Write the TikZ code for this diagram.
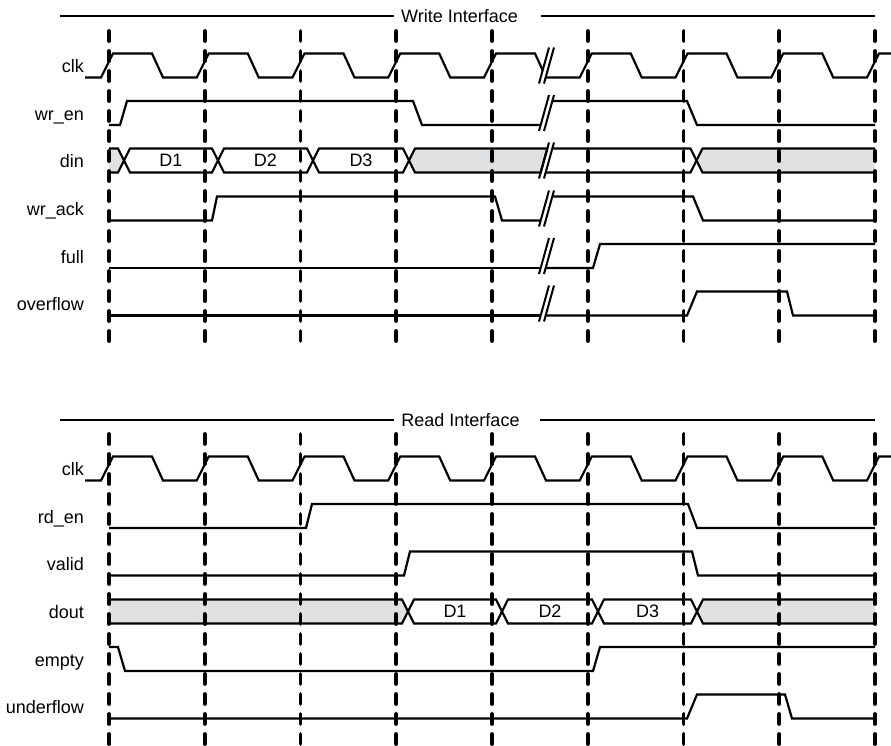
\documentclass[tikz,border=0pt]{standalone}
\usepackage{fontspec}
\setmainfont{Liberation Sans}
\definecolor{busgray}{RGB}{224,225,226}

\begin{document}
\begin{tikzpicture}[
x=1pt, y=-1pt,
sig/.style={line width=2.2pt, line join=miter},
busfill/.style={fill=busgray},
marker/.style={line width=3.8pt, line cap=round, dash pattern=on 10pt off 10pt},
slash/.style={line width=2pt},
lbl/.style={anchor=base east, inner sep=0pt, font=\fontsize{18}{21}\selectfont},
data/.style={inner sep=0pt, font=\fontsize{18}{21}\selectfont},
head/.style={inner sep=7pt, font=\fontsize{18}{21}\selectfont},
]
\useasboundingbox (0,0) rectangle (891,745);

% ---------------- write interface
\node[head] (wtitle) at (459.5,16) {Write Interface};
\draw[sig] (60,16) -- (wtitle.west);
\draw[sig] ([xshift=16pt]wtitle.east) -- (875,16);

\node[lbl] (wclk) at (84,72.5) {clk};
\node[lbl] (wren) at (84,120) {wr\_en};
\node[lbl] (din) at (84,167.5) {din};
\node[lbl] (wrack) at (84,215.5) {wr\_ack};
\node[lbl] (full) at (84,263) {full};
\node[lbl] (overflow) at (84,310.5) {overflow};

% clk
\draw[sig] (85,77.5) \foreach \k in {0,...,3} {
  -- ({101+95.75*\k},77.5) -- ({113+95.75*\k},53.5)
  -- ({152+95.75*\k},53.5) -- ({163+95.75*\k},77.5) }
  -- (484,77.5) -- (496,53.5) -- (535,53.5) -- (542.7,70.3);
\draw[sig] (545.7,77.5) \foreach \k in {5,6,7} {
  -- ({101+95.75*\k},77.5) -- ({113+95.75*\k},53.5)
  -- ({152+95.75*\k},53.5) -- ({163+95.75*\k},77.5) }
  -- (867,77.5) -- (879,53.5) -- (891,53.5);

% wr_en
\draw[sig] (109,125) -- (120,125) -- (127,101) -- (413,101) -- (422,125) -- (540.7,125);
\draw[sig] (552.3,101) -- (687,101) -- (697,125) -- (875,125);

% din
\fill[busfill] (109,148.5) -- (118,148.5) -- (124,160.5) -- (118,172.5) -- (109,172.5) -- cycle;
\draw[sig] (109,148.5) -- (118,148.5) -- (124,160.5) -- (118,172.5) -- (109,172.5);
\draw[sig] (124,160.5) -- (130,148.5) -- (212,148.5) -- (218,160.5) -- (212,172.5) -- (130,172.5) -- cycle;
\draw[sig] (218,160.5) -- (224,148.5) -- (307,148.5) -- (313,160.5) -- (307,172.5) -- (224,172.5) -- cycle;
\draw[sig] (313,160.5) -- (319,148.5) -- (403,148.5) -- (409,160.5) -- (403,172.5) -- (319,172.5) -- cycle;
\draw[sig, busfill] (409,160.5) -- (415,148.5) -- (547.3,148.5) -- (540.7,172.5) -- (415,172.5) -- cycle;
\draw[sig] (552.3,148.5) -- (690.5,148.5) -- (696.5,160.5) -- (690.5,172.5) -- (545.7,172.5);
\fill[busfill] (696.5,160.5) -- (702.5,148.5) -- (875,148.5) -- (875,172.5) -- (702.5,172.5) -- cycle;
\draw[sig] (875,148.5) -- (702.5,148.5) -- (696.5,160.5) -- (702.5,172.5) -- (875,172.5);
\node[data] (wd1) at (171,160.5) {D1};
\node[data] (wd2) at (265.5,160.5) {D2};
\node[data] (wd3) at (361,160.5) {D3};

% wr_ack
\draw[sig] (109,220.5) -- (212,220.5) -- (217,196.5) -- (495,196.5) -- (502,220.5) -- (540.7,220.5);
\draw[sig] (552.3,196.5) -- (693,196.5) -- (703,220.5) -- (875,220.5);

% full
\draw[sig] (109,268) -- (540.7,268);
\draw[sig] (545.7,268) -- (593,268) -- (600,244) -- (875,244);

% overflow
\draw[sig] (109,315.5) -- (540.7,315.5);
\draw[sig] (545.7,315.5) -- (687,315.5) -- (697,291.5) -- (787,291.5) -- (793,315.5) -- (875,315.5);

% break marks
\foreach \yc in {65.5,113,160.5,208.5,256,303.5} {
  \draw[slash] (539,{\yc+18}) -- (549,{\yc-18});
  \draw[slash] (544,{\yc+18}) -- (554,{\yc-18});
}

% ---------------- read interface
\node[head] (rtitle) at (460.5,420) {Read Interface};
\draw[sig] (60,420) -- (rtitle.west);
\draw[sig] ([xshift=13pt]rtitle.east) -- (875,420);

\node[lbl] (rclk) at (84,475.5) {clk};
\node[lbl] (rden) at (84,523) {rd\_en};
\node[lbl] (valid) at (84,570.5) {valid};
\node[lbl] (dout) at (84,618.5) {dout};
\node[lbl] (empty) at (84,666) {empty};
\node[lbl] (underflow) at (84,713.5) {underflow};

% clk
\draw[sig] (85,480.5) \foreach \k in {0,...,7} {
  -- ({101+95.75*\k},480.5) -- ({113+95.75*\k},456.5)
  -- ({152+95.75*\k},456.5) -- ({163+95.75*\k},480.5) }
  -- (867,480.5) -- (879,456.5) -- (891,456.5);

% rd_en
\draw[sig] (109,528) -- (306,528) -- (312,504) -- (688,504) -- (697,528) -- (875,528);

% valid
\draw[sig] (109,575.5) -- (404,575.5) -- (410,551.5) -- (692,551.5) -- (698,575.5) -- (875,575.5);

% dout
\fill[busfill] (109,599.5) -- (402,599.5) -- (408,611.5) -- (402,623.5) -- (109,623.5) -- cycle;
\draw[sig] (109,599.5) -- (402,599.5) -- (408,611.5) -- (402,623.5) -- (109,623.5);
\draw[sig] (408,611.5) -- (414,599.5) -- (496,599.5) -- (502,611.5) -- (496,623.5) -- (414,623.5) -- cycle;
\draw[sig] (502,611.5) -- (508,599.5) -- (592,599.5) -- (598,611.5) -- (592,623.5) -- (508,623.5) -- cycle;
\draw[sig] (598,611.5) -- (604,599.5) -- (691,599.5) -- (697,611.5) -- (691,623.5) -- (604,623.5) -- cycle;
\fill[busfill] (697,611.5) -- (703,599.5) -- (875,599.5) -- (875,623.5) -- (703,623.5) -- cycle;
\draw[sig] (875,599.5) -- (703,599.5) -- (697,611.5) -- (703,623.5) -- (875,623.5);
\node[data] (rd1) at (455,611.5) {D1};
\node[data] (rd2) at (550,611.5) {D2};
\node[data] (rd3) at (647.5,611.5) {D3};

% empty
\draw[sig] (109,647) -- (118,647) -- (125,671) -- (593,671) -- (600,647) -- (875,647);

% underflow
\draw[sig] (109,718.5) -- (687,718.5) -- (697,694.5) -- (785,694.5) -- (792,718.5) -- (875,718.5);

% clock edge markers
\foreach \k in {0,...,8} {
  \draw[marker] ({109+95.75*\k},31) -- ({109+95.75*\k},342);
  \draw[marker] ({109+95.75*\k},434) -- ({109+95.75*\k},745);
}
\end{tikzpicture}
\end{document}
